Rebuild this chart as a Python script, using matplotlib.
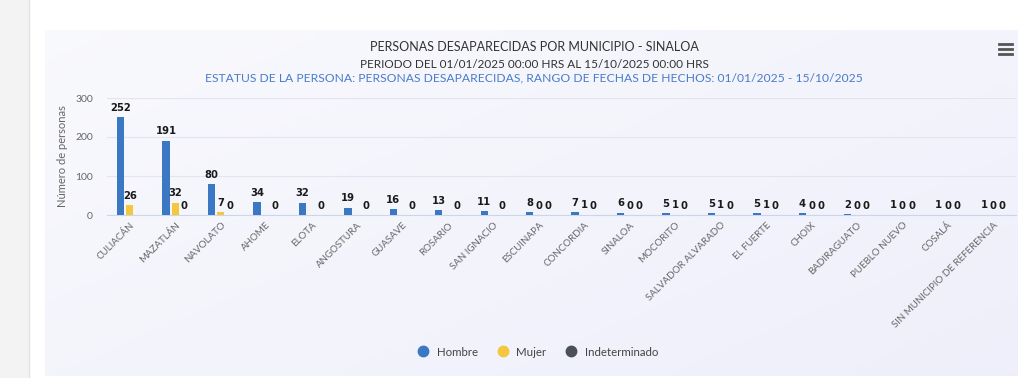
import numpy as np
import matplotlib
matplotlib.use('Agg')
import matplotlib.pyplot as plt
from matplotlib.patches import Rectangle
from matplotlib.lines import Line2D

municipios = ['CULIACÁN', 'MAZATLÁN', 'NAVOLATO', 'AHOME', 'ELOTA', 'ANGOSTURA', 'GUASAVE',
              'ROSARIO', 'SAN IGNACIO', 'ESCUINAPA', 'CONCORDIA', 'SINALOA', 'MOCORITO',
              'SALVADOR ALVARADO', 'EL FUERTE', 'CHOIX', 'BADIRAGUATO', 'PUEBLO NUEVO',
              'COSALÁ', 'SIN MUNICIPIO DE REFERENCIA']
hombre = [252, 191, 80, 34, 32, 19, 16, 13, 11, 8, 7, 6, 5, 5, 5, 4, 2, 1, 1, 1]
# None = label hidden in the original (overlap)
mujer = [26, 32, 7, None, None, None, None, None, None, 0, 1, 0, 1, 1, 1, 0, 0, 0, 0, 0]
indeterminado = [None, 0, 0, 0, 0, 0, 0, 0, 0, 0, 0, 0, 0, 0, 0, 0, 0, 0, 0, 0]

series = [('Hombre', hombre, '#3a78c4'),
          ('Mujer', mujer, '#f5c73c'),
          ('Indeterminado', indeterminado, '#4b5058')]

titulo1 = 'PERSONAS DESAPARECIDAS POR MUNICIPIO - SINALOA'
titulo2 = 'PERIODO DEL 01/01/2025 00:00 HRS AL 15/10/2025 00:00 HRS'
titulo3 = 'ESTATUS DE LA PERSONA: PERSONAS DESAPARECIDAS, RANGO DE FECHAS DE HECHOS: 01/01/2025 - 15/10/2025'

plt.rcParams['font.family'] = ['Lato', 'DejaVu Sans']

W, H = 1024, 378
fig = plt.figure(figsize=(W / 100, H / 100), dpi=100)
fig.patch.set_facecolor('white')

# page decoration: left grey strip and chart container with soft gradient
fig.add_artist(Rectangle((0, 0), 29 / W, 1, transform=fig.transFigure, color='#f3f3f3', zorder=0))
fig.add_artist(Line2D([29 / W, 29 / W], [0, 1], transform=fig.transFigure, color='#e4e4e4', lw=1))
bg = fig.add_axes([45 / W, 2 / H, (1018 - 45) / W, (376 - 30) / H], zorder=-1)
gx, gy = np.meshgrid(np.linspace(0, 1, 200), np.linspace(0, 1, 100))
g = np.clip(0.55 * gx + 0.45 * gy, 0, 1)
c0 = np.array([0.975, 0.978, 0.992])
c1 = np.array([0.935, 0.937, 0.982])
img = c0[None, None, :] * (1 - g[..., None]) + c1[None, None, :] * g[..., None]
bg.imshow(img, aspect='auto', extent=[0, 1, 0, 1])
bg.axis('off')

ax = fig.add_axes([107 / W, 1 - 215 / H, (1016 - 107) / W, (215 - 98) / H])
ax.set_facecolor('none')

x = np.arange(len(municipios))
bw = 0.16
offsets = [-0.2, 0.0, 0.2]
for (name, vals, col), off in zip(series, offsets):
    heights = [v if v is not None else 0 for v in vals]
    ax.bar(x + off, heights, width=bw, color=col, label=name, zorder=3)
    for xi, v in zip(x, vals):
        if v is None:
            continue
        ax.annotate(str(v), (xi + off, v), xytext=(0, 3), textcoords='offset points',
                    ha='center', va='bottom', fontsize=7.2, fontweight='bold', color='#1a1a1a',
                    family='DejaVu Sans')

ax.set_ylim(0, 300)
ax.set_xlim(-0.5, len(municipios) - 0.5)
ax.set_yticks([0, 100, 200, 300])
ax.yaxis.grid(True, color='#e3e4ee', lw=0.8, zorder=0)
for s in ['top', 'right', 'left']:
    ax.spines[s].set_visible(False)
ax.spines['bottom'].set_color('#ccd6eb')
ax.tick_params(axis='y', length=0, labelsize=7.5, labelcolor='#666666', pad=10)
ax.tick_params(axis='x', length=0, pad=4)
ax.set_xticks(x)
ax.set_xticklabels(municipios, rotation=45, ha='right', rotation_mode='anchor',
                   fontsize=7, color='#666666')
ax.set_ylabel('Número de personas', fontsize=8, color='#666666', labelpad=5)

fig.text(534 / W, 1 - 47 / H, titulo1, ha='center', va='center', fontsize=9, color='#333333')
fig.text(534 / W, 1 - 65 / H, titulo2, ha='center', va='center', fontsize=8.5, color='#333333')
fig.text(534 / W, 1 - 78 / H, titulo3, ha='center', va='center', fontsize=8.75, color='#4a7cc9')

# menu icon
for yy in (44, 49, 54):
    fig.add_artist(Line2D([999 / W, 1012 / W], [1 - yy / H, 1 - yy / H],
                          transform=fig.transFigure, color='#555555', lw=2))

hs = [Line2D([0], [0], marker='o', ls='', markersize=7.5, markerfacecolor=c, markeredgecolor=c)
      for _, _, c in series]
fig.legend(hs, [n for n, _, _ in series], loc='center', bbox_to_anchor=(535 / W, 1 - 352 / H),
           ncol=3, frameon=False, fontsize=8.3, labelcolor='#444444', handletextpad=0.2,
           columnspacing=1.1)

fig.savefig('out.png', dpi=100)
